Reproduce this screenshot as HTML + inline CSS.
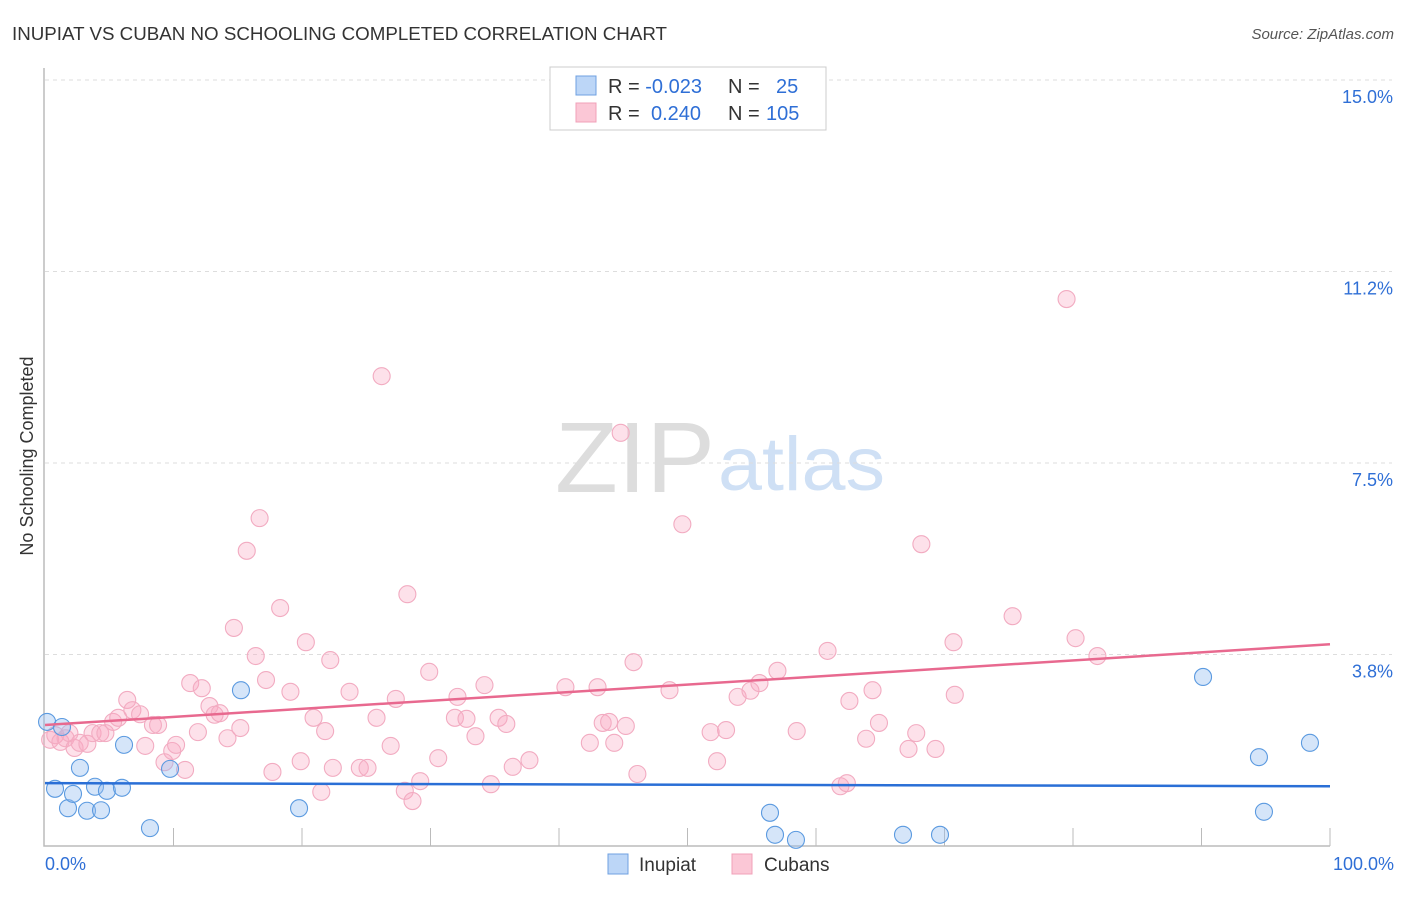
<!DOCTYPE html>
<html><head><meta charset="utf-8"><style>
body{margin:0;background:#fff;font-family:"Liberation Sans",sans-serif}
svg text{font-family:"Liberation Sans",sans-serif}
</style></head><body>
<svg id="c" width="1406" height="892" xmlns="http://www.w3.org/2000/svg">
<text x="12" y="40" font-size="18" fill="#333" textLength="655" lengthAdjust="spacingAndGlyphs">INUPIAT VS CUBAN NO SCHOOLING COMPLETED CORRELATION CHART</text>
<text x="1394" y="39" font-size="15" fill="#555" font-style="italic" text-anchor="end">Source: ZipAtlas.com</text>
<text x="33" y="456" font-size="18" fill="#333" text-anchor="middle" transform="rotate(-90 33 456)">No Schooling Completed</text>
<text x="715" y="492" font-size="100" fill="#ddd" text-anchor="end" font-family="Liberation Serif" textLength="160" lengthAdjust="spacingAndGlyphs">ZIP</text>
<text x="718" y="490" font-size="76" fill="#cfe0f5" textLength="167" lengthAdjust="spacingAndGlyphs">atlas</text>
<g id="grid"></g><g id="pts"></g><g id="lines"></g>
<rect x="550" y="67" width="276" height="63" fill="#fff" stroke="#ccc"/>
<rect x="576" y="76" width="20" height="19" fill="#bcd6f7" stroke="#6fa0e0"/>
<rect x="576" y="103" width="20" height="19" fill="#fbc7d6" stroke="#f0a0b8"/>
<text x="608" y="93" font-size="20" fill="#333">R = <tspan fill="#2f6fd6">-0.023</tspan><tspan x="728">N = </tspan><tspan x="776" fill="#2f6fd6">25</tspan></text>
<text x="608" y="120" font-size="20" fill="#333">R = <tspan x="651" fill="#2f6fd6">0.240</tspan><tspan x="728">N = </tspan><tspan x="766" fill="#2f6fd6">105</tspan></text>
<rect x="608" y="854" width="20" height="20" fill="#bcd6f7" stroke="#6fa0e0"/>
<text x="639" y="871" font-size="19" fill="#333">Inupiat</text>
<rect x="732" y="854" width="20" height="20" fill="#fbc7d6" stroke="#f0a0b8"/>
<text x="764" y="871" font-size="19" fill="#333">Cubans</text>
<text x="45" y="870" font-size="18" fill="#2f6fd6">0.0%</text>
<text x="1394" y="870" font-size="18" fill="#2f6fd6" text-anchor="end">100.0%</text>
</svg>
<script>
const yTicks=[3.75,7.5,11.25,15];
const yTickLabels=["3.8%","7.5%","11.2%","15.0%"];
const blueX=[0.16,1.32,0.78,1.79,2.18,2.72,3.27,3.89,4.36,4.82,5.99,6.15,8.17,9.73,15.25,19.77,56.42,56.81,58.44,66.77,69.65,90.12,94.47,94.86,98.44];
const blueY=[2.43,2.33,1.12,0.74,1.02,1.53,0.69,1.16,0.70,1.08,1.14,1.98,0.35,1.51,3.05,0.74,0.65,0.22,0.12,0.22,0.22,3.31,1.74,0.67,2.02];
const pinkX=[0.4,0.8,1.2,1.6,1.9,2.3,2.7,3.3,3.7,4.3,4.7,5.3,5.7,6.4,6.8,7.4,7.8,8.4,8.8,9.3,9.9,10.2,10.9,11.3,11.9,12.2,12.8,13.2,13.6,14.2,14.7,15.2,15.7,16.4,16.7,17.2,17.7,18.3,19.1,19.9,20.3,20.9,21.5,21.8,22.2,22.4,23.7,24.5,25.1,25.8,26.2,26.9,27.3,28.0,28.2,28.6,29.2,29.9,30.6,31.9,32.1,32.8,33.5,34.2,34.7,35.3,35.9,36.4,37.7,40.5,42.4,43.0,43.4,43.9,44.3,44.8,45.2,45.8,46.1,48.6,49.6,51.8,52.3,53.0,53.9,54.9,55.6,57.0,58.5,60.9,61.9,62.4,62.6,63.9,64.4,64.9,67.2,67.8,68.2,69.3,70.7,70.8,75.3,79.5,80.2,81.9];
const pinkY=[2.08,2.17,2.04,2.11,2.21,1.92,2.02,2.00,2.21,2.21,2.21,2.43,2.51,2.86,2.66,2.58,1.96,2.37,2.37,1.64,1.86,1.98,1.49,3.19,2.23,3.09,2.74,2.57,2.60,2.11,4.27,2.31,5.78,3.72,6.42,3.25,1.45,4.66,3.02,1.66,3.99,2.51,1.06,2.25,3.64,1.53,3.02,1.53,1.53,2.51,9.20,1.96,2.88,1.08,4.93,0.88,1.27,3.41,1.72,2.51,2.92,2.49,2.15,3.15,1.21,2.51,2.39,1.55,1.68,3.11,2.02,3.11,2.41,2.43,2.02,8.09,2.35,3.60,1.41,3.05,6.30,2.23,1.66,2.27,2.92,3.04,3.19,3.43,2.25,3.82,1.17,1.23,2.84,2.10,3.05,2.41,1.90,2.21,5.91,1.90,3.99,2.96,4.50,10.71,4.07,3.72];
const blueFit=[1.23,1.17];
const pinkFit=[2.37,3.95];
const NS="http://www.w3.org/2000/svg";
const X=v=>45+v*12.85, Y=v=>846-v*51.07;
function mk(t,a,p){const e=document.createElementNS(NS,t);for(const k in a)e.setAttribute(k,a[k]);p.appendChild(e);return e;}
const g=document.getElementById('grid');
yTicks.forEach((t,i)=>{
 const l=mk('line',{x1:45,x2:1392,y1:Y(t),y2:Y(t),stroke:'#ddd','stroke-dasharray':'4,4'},g);
 
 
 const tx=mk('text',{x:1393,y:Y(t)+23,'font-size':18,fill:'#2f6fd6','text-anchor':'end'},g);
 tx.textContent=yTickLabels[i];
 
 
});
const ax=mk('path',{d:'M44,68V846H1330',fill:'none',stroke:'#bbb','stroke-width':1.5},g);


for(let i=1;i<=10;i++){const t=mk('line',{x1:X(i*10),x2:X(i*10),y1:828,y2:846,stroke:'#bbb'},g);
 
 }
const p=document.getElementById('pts');
pinkX.forEach((x,i)=>{const c=mk('circle',{cx:X(x),cy:Y(pinkY[i]),r:8.5,fill:'rgba(248,170,196,0.35)',stroke:'#f2abc1','stroke-width':1.1},p);
 
 });
blueX.forEach((x,i)=>{const c=mk('circle',{cx:X(x),cy:Y(blueY[i]),r:8.5,fill:'rgba(150,190,240,0.4)',stroke:'#5b9ae0','stroke-width':1.1},p);
 
 });
const L=document.getElementById('lines');
const a=mk('line',{x1:X(0),x2:X(100),y1:Y(pinkFit[0]),y2:Y(pinkFit[1]),stroke:'#e8698f','stroke-width':2.5},L);


const b=mk('line',{x1:X(0),x2:X(100),y1:Y(blueFit[0]),y2:Y(blueFit[1]),stroke:'#2a6fd6','stroke-width':2.5},L);


</script>
</body></html>
